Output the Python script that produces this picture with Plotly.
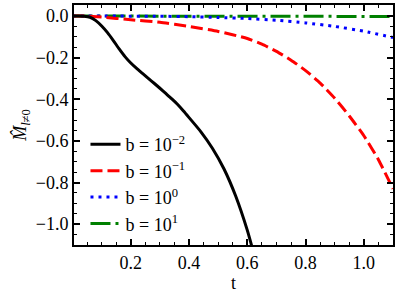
import plotly.graph_objects as go

# b = 10^-2
t_b1 = [0.0, 0.02, 0.04, 0.06, 0.08, 0.10, 0.12, 0.14, 0.16, 0.18, 0.20, 0.22, 0.24, 0.26, 0.28, 0.30, 0.32, 0.34, 0.36, 0.38, 0.40, 0.44, 0.48, 0.52, 0.56, 0.60, 0.62]
m_b1 = [0.0, 0.0, -0.001, -0.006, -0.022, -0.048, -0.08, -0.118, -0.158, -0.195, -0.226, -0.252, -0.276, -0.30, -0.323, -0.347, -0.372, -0.397, -0.424, -0.455, -0.488, -0.555, -0.635, -0.735, -0.865, -1.03, -1.13]

# b = 10^-1
t_b2 = [0.0, 0.04, 0.1, 0.2, 0.3, 0.4, 0.5, 0.6, 0.65, 0.7, 0.75, 0.8, 0.85, 0.9, 0.95, 1.0, 1.05, 1.1]
m_b2 = [0.0, 0.0, -0.005, -0.018, -0.03, -0.05, -0.074, -0.108, -0.135, -0.17, -0.212, -0.262, -0.322, -0.395, -0.48, -0.575, -0.69, -0.83]

# b = 10^0
t_b3 = [0.0, 0.3, 0.4, 0.5, 0.6, 0.7, 0.8, 0.9, 1.0, 1.1]
m_b3 = [0.0, -0.001, -0.003, -0.007, -0.012, -0.02, -0.033, -0.05, -0.073, -0.103]

# b = 10^1
t_b4 = [0.0, 0.5, 1.0, 1.1]
m_b4 = [0.0, 0.0, -0.001, -0.002]

labels = ["b = 10<sup>−2</sup>", "b = 10<sup>−1</sup>", "b = 10<sup>0</sup>", "b = 10<sup>1</sup>"]

fig = go.Figure()
fig.add_trace(go.Scatter(x=t_b4, y=m_b4, mode="lines", name=labels[3], legendrank=4,
                         line=dict(color="#008000", width=3, dash="20px,5px,3px,5px")))
fig.add_trace(go.Scatter(x=t_b3, y=m_b3, mode="lines", name=labels[2], legendrank=3,
                         line=dict(color="#0000ff", width=3, dash="3px,5px", shape="spline", smoothing=0.5)))
fig.add_trace(go.Scatter(x=t_b2, y=m_b2, mode="lines", name=labels[1], legendrank=2,
                         line=dict(color="#ff0000", width=3, dash="12px,5px", shape="spline", smoothing=0.5)))
fig.add_trace(go.Scatter(x=t_b1, y=m_b1, mode="lines", name=labels[0], legendrank=1,
                         line=dict(color="black", width=3, shape="spline", smoothing=0.5)))

FONT = "Liberation Serif"
FS = 18
axis_common = dict(
    showline=True, linecolor="black", linewidth=2, mirror="allticks",
    ticks="inside", ticklen=6, tickwidth=1.5, tickcolor="black",
    showgrid=False, zeroline=False, automargin=False,
    tickfont=dict(family=FONT, size=FS, color="black"),
    minor=dict(ticks="inside", ticklen=3, tickwidth=1, tickcolor="black", dtick=0.05, showgrid=False),
)

fig.update_xaxes(range=[0.005, 1.1], dtick=0.2, tick0=0, tickformat=".1f",
                 title=dict(text="t", font=dict(family=FONT, size=FS, color="black"), standoff=5),
                 **axis_common)
fig.update_yaxes(range=[-1.1, 0.053], dtick=0.2, tick0=0, tickformat=".1f",
                 title=dict(text="<i>M̂</i><sub><i>l</i>≠0</sub>", font=dict(family=FONT, size=FS, color="black"), standoff=4),
                 **axis_common)

fig.update_layout(
    width=399, height=295,
    margin=dict(l=74, r=6, t=5, b=50, autoexpand=False),
    plot_bgcolor="white", paper_bgcolor="white",
    font=dict(family=FONT, size=FS, color="black"),
    legend=dict(x=0.036, y=0.012, xanchor="left", yanchor="bottom",
                bgcolor="rgba(0,0,0,0)", font=dict(family=FONT, size=FS),
                tracegroupgap=0),
    showlegend=True,
)

fig.write_html("out.html", config={"displayModeBar": False},
               post_script="document.body.style.margin='0';")
